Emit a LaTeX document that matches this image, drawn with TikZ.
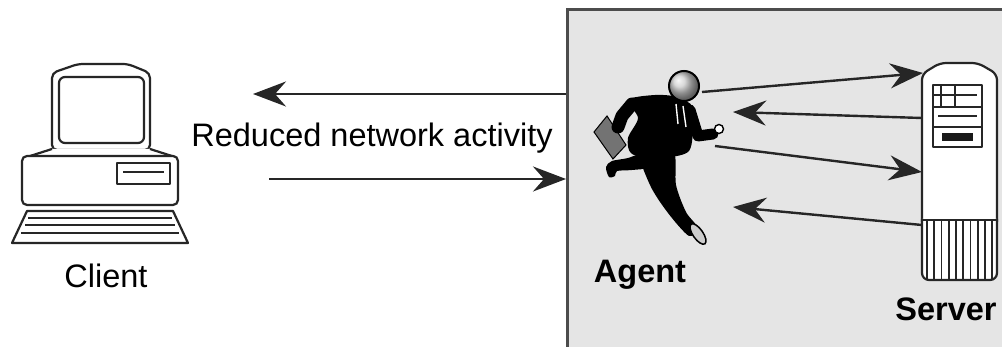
\documentclass[tikz,border=0pt]{standalone}
\usepackage{fontspec}
\setmainfont{Liberation Sans}
\usetikzlibrary{arrows.meta}
\begin{document}
\begin{tikzpicture}[x=1pt,y=-1pt,
  outline/.style={draw=black!85,line width=2.2pt,line join=round},
  thinline/.style={draw=black!85,line width=1.6pt},
  flow/.style={draw=black!85,line width=2.4pt,-{Stealth[length=33pt,width=25pt,inset=11pt]}},
  txt/.style={font=\fontsize{32.5}{38}\selectfont,anchor=base,inner sep=0pt},
  boldtxt/.style={font=\fontsize{32.5}{38}\selectfont\bfseries,anchor=base,inner sep=0pt}]
\useasboundingbox (0,0) rectangle (1002,347);
\fill[white] (0,0) rectangle (1002,347);

% agent zone
\filldraw[fill=black!10,draw=black!70,line width=3pt] (567,10) rectangle (1012,362);

% ---------- client computer ----------
% monitor
\filldraw[fill=white,outline,rounded corners=5pt]
  (52,150) -- (52,73) -- (78,64) -- (128,64) -- (150,73) -- (150,150) -- cycle;
\draw[outline,rounded corners=6pt] (59,77) rectangle (144,143);
% base unit
\filldraw[fill=white,outline] (52,149) -- (27,157) -- (175,157) -- (150,149);
\filldraw[fill=white,outline,rounded corners=5pt] (22,156) rectangle (178,205);
\draw[outline] (117,163) rectangle (170,184);
\draw[outline,line width=2.6pt] (123,172) -- (164,172);
% keyboard
\filldraw[fill=white,outline] (27,211) -- (173,211) -- (188,243) -- (12,243) -- cycle;
\draw[thinline] (28,218) -- (172,218);
\draw[thinline] (25,225) -- (175,225);
\draw[thinline] (21,233) -- (179,233);
\node[txt] (client) at (106,288) {Client};

% ---------- client <-> agent traffic ----------
\coordinate (outL) at (566,94);
\coordinate (outR) at (253,94);
\coordinate (inL) at (269,179);
\coordinate (inR) at (566,179);
\draw[flow] (outL) -- (outR);
\draw[flow] (inL) -- (inR);
\node[txt] (traffic) at (372,147) {Reduced network activity};

% ---------- server tower ----------
\filldraw[fill=white,outline,rounded corners=6pt]
  (922,222) -- (922,74) -- (940,63) -- (978,63) -- (997,74) -- (997,222);
\filldraw[fill=white,outline,rounded corners=7pt]
  (922,219) -- (922,280) -- (997,280) -- (997,219);
\draw[outline] (922,220) -- (997,220);
\foreach \i in {0,...,9}
  \draw[thinline,line width=1.8pt] ({927+7.25*\i},221) -- ({927+7.25*\i},279);
% front panel
\filldraw[fill=white,outline] (933,85) rectangle (982,147);
\draw[outline,line width=2.8pt] (933,107) -- (982,107);
\draw[outline] (933,127) -- (982,127);
\draw[thinline] (941,85) -- (941,107);
\draw[thinline] (955,85) -- (955,107);
\draw[thinline] (933,95) -- (977,95);
\draw[outline,line width=2.8pt] (938,116) -- (977,116);
\fill[black!90] (942,133) rectangle (973,141);
\node[boldtxt] (server) at (946,321) {Server};

% ---------- running agent ----------
% briefcase
\filldraw[fill=black!55,draw=black,line width=1pt]
  (594,132) -- (607,116) -- (626,145) -- (613,159) -- cycle;
% back leg
\fill[black] plot[smooth cycle] coordinates
  {(650,151) (628,158) (612,161) (606,167) (609,177) (615,176) (617,171) (632,170) (648,167)};
% front leg
\fill[black] plot[smooth cycle] coordinates
  {(640,151) (673,151) (676,185) (686,212) (697,227) (689,236) (668,213) (650,185)};
% torso
\fill[black] plot[smooth cycle] coordinates
  {(628,100) (655,95) (677,97) (693,107) (693,130) (688,152) (660,158) (632,154) (628,138) (638,118)};
% arms
\draw[black,line width=13pt,line cap=round,line join=round] (632,104) -- (622,116) -- (618,127);
\draw[black,line width=11pt,line cap=round,line join=round] (690,110) -- (698,136) -- (713,134);
% collar and tie highlights
\draw[white,line width=1.4pt] (676,104) -- (678,124);
\draw[white,line width=1.4pt] (683,106) -- (686,127);
% front shoe
\filldraw[fill=black!20,draw=black,line width=1.5pt,rotate around={35:(698,234)}]
  (698,234) ellipse [x radius=5pt,y radius=12pt];
% hand and head
\filldraw[fill=white,draw=black,line width=1.4pt] (719,129) circle (4.5pt);
\shade[ball color=black!20] (684,86) circle (15pt);
\draw[black,line width=2pt] (684,86) circle (15pt);
\node[boldtxt] (agent) at (640,283) {Agent};

% ---------- agent <-> server traffic ----------
\coordinate (a1s) at (702,92);   \coordinate (a1e) at (923,73);
\coordinate (a2s) at (922,118);  \coordinate (a2e) at (733,112);
\coordinate (a3s) at (715,146);  \coordinate (a3e) at (922,172);
\coordinate (a4s) at (922,225);  \coordinate (a4e) at (733,207);
\draw[flow] (a1s) -- (a1e);
\draw[flow] (a2s) -- (a2e);
\draw[flow] (a3s) -- (a3e);
\draw[flow] (a4s) -- (a4e);
\end{tikzpicture}
\end{document}
